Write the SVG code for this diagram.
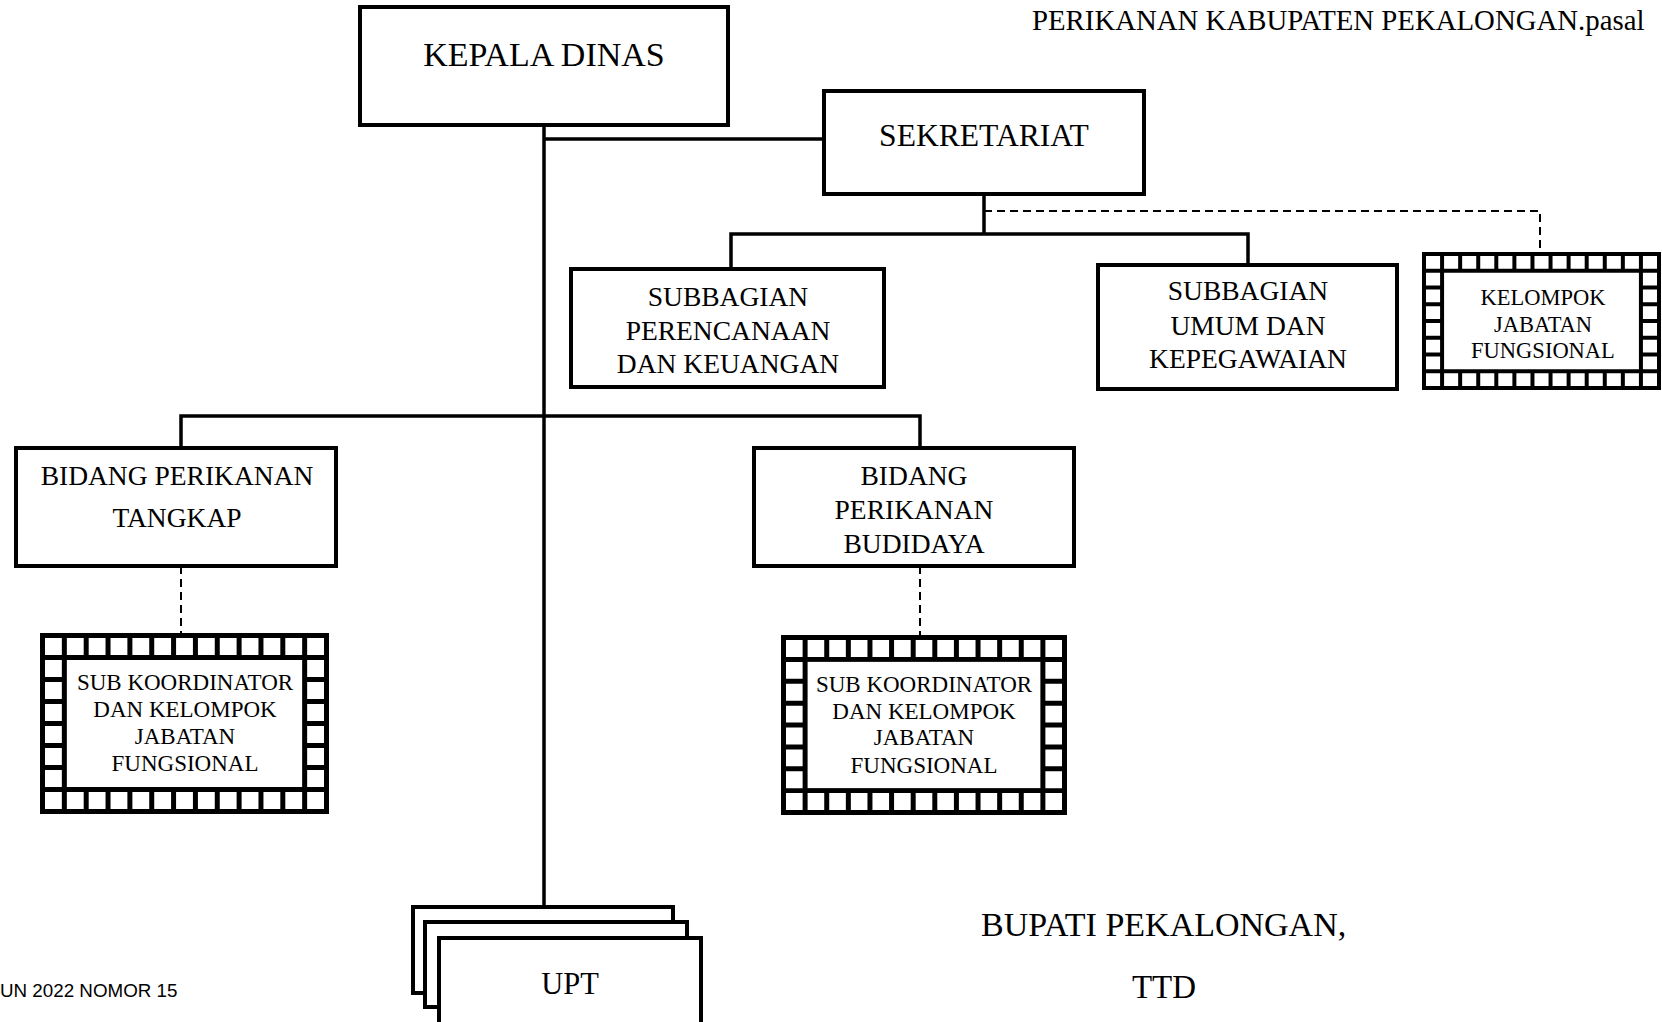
<svg xmlns="http://www.w3.org/2000/svg" width="1662" height="1022" viewBox="0 0 1662 1022">
<style>
.bx{fill:#fff;stroke:#000;stroke-width:4}
.ln{fill:none;stroke:#000;stroke-width:3.5}
.dl{fill:none;stroke:#000;stroke-width:2;stroke-dasharray:8 5}
.t{font-family:"Liberation Serif","Times New Roman",serif;fill:#000;text-anchor:middle}
.s{font-family:"Liberation Sans",Arial,sans-serif;fill:#000}
.fr{fill:#000}
.sq{fill:none;stroke:#fff}
.in{fill:#fff}
</style>
<rect width="1662" height="1022" fill="#fff"/>
<text class="t" x="1032" y="30" font-size="28.8" style="text-anchor:start">PERIKANAN KABUPATEN PEKALONGAN.pasal</text>

<g id="connectors">
<path class="ln" d="M544 125V907"/>
<path class="ln" d="M544 139H824"/>
<path class="ln" d="M984 194V234"/>
<path class="ln" d="M731 269V234H1248V265"/>
<path class="ln" d="M181 448V416H920V448"/>
<path class="dl" d="M984 211H1540V252"/>
<path class="dl" d="M181 566V633"/>
<path class="dl" d="M920 566V635"/>
</g>

<g id="kepala-dinas">
<rect class="bx" x="360" y="7" width="368" height="118"/>
<text class="t" x="544" y="66" font-size="34">KEPALA DINAS</text>
</g>

<g id="sekretariat">
<rect class="bx" x="824" y="91" width="320" height="103"/>
<text class="t" x="984" y="146" font-size="31.6">SEKRETARIAT</text>
</g>

<g id="subbagian-perencanaan">
<rect class="bx" x="571" y="269" width="313" height="118"/>
<text class="t" x="728" y="306" font-size="27.5">SUBBAGIAN</text>
<text class="t" x="728" y="340" font-size="27.5">PERENCANAAN</text>
<text class="t" x="728" y="373" font-size="27.5">DAN KEUANGAN</text>
</g>

<g id="subbagian-umum">
<rect class="bx" x="1098" y="265" width="299" height="124"/>
<text class="t" x="1248" y="300" font-size="27.5">SUBBAGIAN</text>
<text class="t" x="1248" y="335" font-size="27.5">UMUM DAN</text>
<text class="t" x="1248" y="368" font-size="27.5">KEPEGAWAIAN</text>
</g>

<g id="kelompok-jabatan-fungsional">
<rect class="fr" x="1422" y="252" width="239" height="138"/>
<path class="sq" stroke-width="12.75" stroke-dasharray="14.077 4" d="M1426 262.375H1657M1426 379.625H1657"/>
<path class="sq" stroke-width="14.077" stroke-dasharray="12.75 4" d="M1433.04 272.75V369.25M1649.96 272.75V369.25"/>
<rect class="in" x="1444.08" y="272.75" width="194.84" height="96.5"/>
<text class="t" x="1543" y="305" font-size="22.5">KELOMPOK</text>
<text class="t" x="1543" y="332" font-size="22.5">JABATAN</text>
<text class="t" x="1543" y="358" font-size="22.5">FUNGSIONAL</text>
</g>

<g id="bidang-perikanan-tangkap">
<rect class="bx" x="16" y="448" width="320" height="118"/>
<text class="t" x="177" y="485" font-size="27.5">BIDANG PERIKANAN</text>
<text class="t" x="177" y="527" font-size="27.5">TANGKAP</text>
</g>

<g id="bidang-perikanan-budidaya">
<rect class="bx" x="754" y="448" width="320" height="118"/>
<text class="t" x="914" y="485" font-size="27.5">BIDANG</text>
<text class="t" x="914" y="519" font-size="27.5">PERIKANAN</text>
<text class="t" x="914" y="553" font-size="27.5">BUDIDAYA</text>
</g>

<g id="subkoordinator-tangkap">
<rect class="fr" x="40" y="633" width="289" height="181"/>
<path class="sq" stroke-width="17" stroke-dasharray="16.846 5" d="M45 646.5H324M45 800.5H324"/>
<path class="sq" stroke-width="16.846" stroke-dasharray="17 5" d="M53.42 660V787M315.58 660V787"/>
<rect class="in" x="66.85" y="660" width="235.3" height="127"/>
<text class="t" x="185" y="690" font-size="23">SUB KOORDINATOR</text>
<text class="t" x="185" y="717" font-size="23">DAN KELOMPOK</text>
<text class="t" x="185" y="744" font-size="23">JABATAN</text>
<text class="t" x="185" y="771" font-size="23">FUNGSIONAL</text>
</g>

<g id="subkoordinator-budidaya">
<rect class="fr" x="781" y="635" width="286" height="180"/>
<path class="sq" stroke-width="16.875" stroke-dasharray="16.615 5" d="M786 648.44H1062M786 801.56H1062"/>
<path class="sq" stroke-width="16.615" stroke-dasharray="16.875 5" d="M794.31 661.875V788.125M1053.69 661.875V788.125"/>
<rect class="in" x="807.6" y="661.875" width="232.78" height="126.25"/>
<text class="t" x="924" y="692" font-size="23">SUB KOORDINATOR</text>
<text class="t" x="924" y="719" font-size="23">DAN KELOMPOK</text>
<text class="t" x="924" y="745" font-size="23">JABATAN</text>
<text class="t" x="924" y="773" font-size="23">FUNGSIONAL</text>
</g>

<g id="upt">
<rect class="bx" x="413" y="907" width="260" height="86"/>
<rect class="bx" x="425" y="922" width="262" height="85"/>
<rect class="bx" x="439" y="938" width="262" height="92"/>
<text class="t" x="570" y="994" font-size="30.5">UPT</text>
</g>

<text class="t" x="981" y="936" font-size="34" style="text-anchor:start">BUPATI PEKALONGAN,</text>
<text class="t" x="1164" y="998" font-size="33">TTD</text>
<text class="s" x="0" y="997" font-size="18.8">UN 2022 NOMOR 15</text>
</svg>
